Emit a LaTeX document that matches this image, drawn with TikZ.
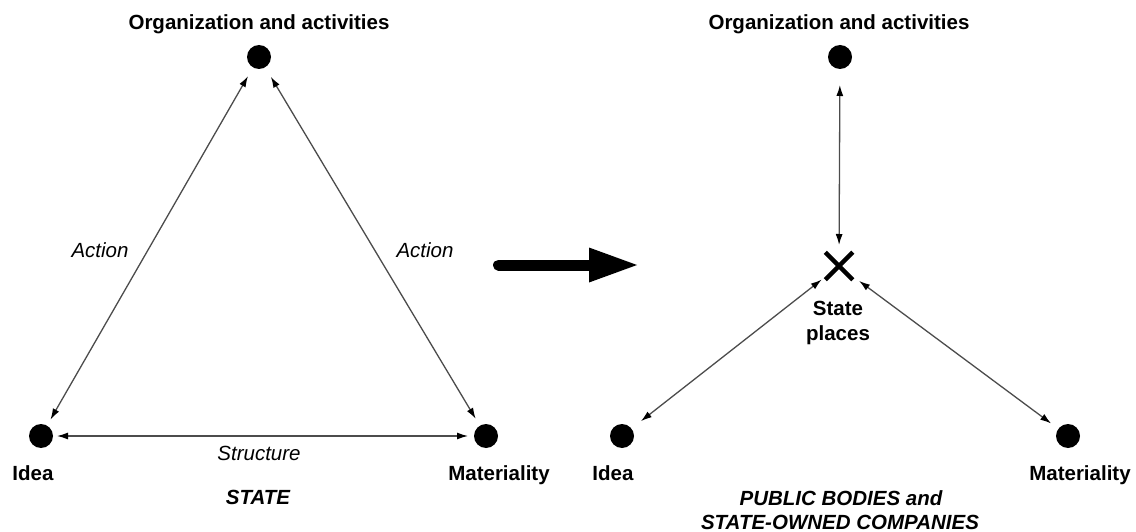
\documentclass[tikz,border=0pt]{standalone}
\usepackage{fontspec}
\setmainfont{Liberation Sans}
\usetikzlibrary{arrows.meta,shapes.misc}
\begin{document}
\begin{tikzpicture}[x=1pt,y=-1pt,
  dot/.style={circle,fill=black,inner sep=0pt,minimum size=24pt},
  lbl/.style={font=\fontsize{20.5}{24}\selectfont\bfseries, anchor=base, inner sep=0pt},
  ital/.style={font=\fontsize{20.5}{24}\selectfont\itshape, anchor=base, inner sep=0pt},
  bital/.style={font=\fontsize{20.5}{24}\selectfont\bfseries\itshape, anchor=base, inner sep=0pt},
  conn/.style={draw=black!70, line width=1.3pt, {Latex[length=11pt,width=7pt,color=black]}-{Latex[length=11pt,width=7pt,color=black]}},
  ]
\useasboundingbox (0,0) rectangle (1136,532);

% ---------- left: STATE ----------
\node[dot] (top) at (259,57) {};
\node[dot] (idea) at (41,436) {};
\node[dot] (mat) at (486,436) {};

\node[lbl] (ttop) at (259,30) {Organization and activities};
\node[lbl] (tidea) at (33,480) {Idea};
\node[lbl] (tmat) at (499,480) {Materiality};
\node[ital] (act1) at (100,257) {Action};
\node[ital] (act2) at (425,257) {Action};
\node[ital] (struct) at (259,460) {Structure};
\node[bital] (state) at (258,504) {STATE};

\draw[conn, shorten <=22pt, shorten >=19pt] (top.center) -- (idea.center);
\draw[conn, shorten <=23pt, shorten >=20pt] (top.center) -- (mat.center);
\draw[conn, shorten <=16pt, shorten >=18pt] (idea.center) -- (mat.center);

% ---------- big arrow ----------
\coordinate (aS) at (498.5,265);
\coordinate (aB) at (590,265);
\coordinate (aE) at (637,265);
\draw[line width=11pt, line cap=round] (aS) -- (aB);
\fill (589,247.5) -- (aE) -- (589,282.5) -- cycle;

% ---------- right: PUBLIC BODIES ----------
\node[dot] (top2) at (840,57) {};
\node[dot] (idea2) at (622,436) {};
\node[dot] (mat2) at (1068,436) {};
\node[cross out, draw, line width=4.5pt, minimum size=23pt, inner sep=0pt] (sp) at (839,266) {};

\node[lbl] (ttop2) at (839,30) {Organization and activities};
\node[lbl] (tidea2) at (613,480) {Idea};
\node[lbl] (tmat2) at (1080,480) {Materiality};
\node[lbl] (sp1) at (838,315) {State};
\node[lbl] (sp2) at (838,340) {places};
\node[bital] (pb1) at (841,505) {PUBLIC BODIES and};
\node[bital] (pb2) at (840,529) {STATE-OWNED COMPANIES};

\draw[conn, shorten <=28pt, shorten >=21pt] (top2.center) -- (sp.center);
\draw[conn, shorten <=22pt, shorten >=24pt] (sp.center) -- (idea2.center);
\draw[conn, shorten <=25pt, shorten >=21pt] (sp.center) -- (mat2.center);
\end{tikzpicture}
\end{document}
